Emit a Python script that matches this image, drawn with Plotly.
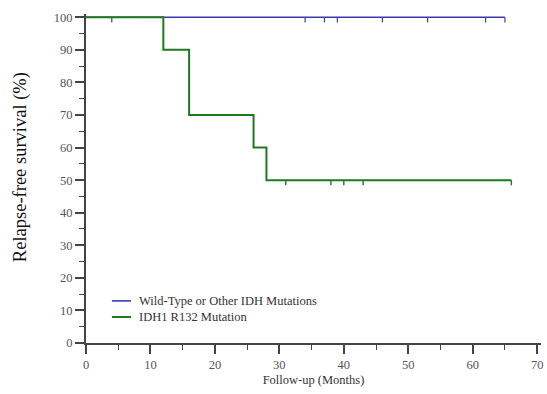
import plotly.graph_objects as go

# Kaplan-Meier step data (months, survival %)
wt_times = [0, 65]
wt_surv = [100, 100]
wt_censor_times = [4, 34, 37, 39, 46, 53, 62, 65]

idh_times = [0, 12, 16, 26, 28, 66]
idh_surv = [100, 90, 70, 60, 50, 50]
idh_censor_times = [31, 38, 40, 43, 66]

x_ticks = [0, 10, 20, 30, 40, 50, 60, 70]
y_ticks = [0, 10, 20, 30, 40, 50, 60, 70, 80, 90, 100]

series_names = ["Wild-Type or Other IDH Mutations", "IDH1 R132 Mutation"]
BLUE = "#3a3ab4"
GREEN = "#1f7a1f"
FONT = "Liberation Serif"
CENSOR_LEN = 1.6  # length of the censor tick, in survival-% units


def surv_at(times, surv, t):
    v = surv[0]
    for ti, si in zip(times, surv):
        if ti <= t:
            v = si
    return v


def censor_segments(times, surv, ctimes):
    xs, ys = [], []
    for t in ctimes:
        v = surv_at(times, surv, t)
        xs += [t, t, None]
        ys += [v, v - CENSOR_LEN, None]
    return xs, ys


fig = go.Figure()

# Wild-type curve
fig.add_trace(go.Scatter(x=wt_times, y=wt_surv, mode="lines", line_shape="hv",
                         line=dict(color=BLUE, width=1.6), name=series_names[0]))
cx, cy = censor_segments(wt_times, wt_surv, wt_censor_times)
fig.add_trace(go.Scatter(x=cx, y=cy, mode="lines", line=dict(color=BLUE, width=1.2),
                         hoverinfo="skip"))

# IDH1 R132 curve
fig.add_trace(go.Scatter(x=idh_times, y=idh_surv, mode="lines", line_shape="hv",
                         line=dict(color=GREEN, width=2), name=series_names[1]))
cx, cy = censor_segments(idh_times, idh_surv, idh_censor_times)
fig.add_trace(go.Scatter(x=cx, y=cy, mode="lines", line=dict(color=GREEN, width=1.4),
                         hoverinfo="skip"))

# Compact legend box in the lower-left corner of the plot
legend_rows_y = [0.128, 0.079]
for name, color, width, yy in zip(series_names, [BLUE, GREEN], [1.6, 2], legend_rows_y):
    fig.add_shape(type="line", xref="paper", yref="paper", x0=0.057, x1=0.099, y0=yy, y1=yy,
                  line=dict(color=color, width=width))
    fig.add_annotation(xref="paper", yref="paper", x=0.113, y=yy, text=name, showarrow=False,
                       xanchor="left", yanchor="middle",
                       font=dict(family=FONT, size=12.5, color="#333333"))

# Y-axis title, placed as a rotated annotation
fig.add_annotation(xref="paper", yref="paper", x=-0.144, y=0.536, text="Relapse-free survival (%)",
                   textangle=-90, showarrow=False, xanchor="center", yanchor="middle",
                   font=dict(family=FONT, size=18.5, color="#111111"))

axis_common = dict(
    showgrid=False, zeroline=False, showline=True, linecolor="#444444", linewidth=2,
    ticks="outside", tickcolor="#444444", tickwidth=1.5, ticklen=9,
    tickfont=dict(family=FONT, size=12.5, color="#555555"),
)
minor_ticks = dict(ticks="outside", dtick=5, tick0=0, ticklen=5, tickcolor="#444444", tickwidth=1)

fig.update_layout(
    width=547, height=394,
    margin=dict(l=86, r=4, t=14, b=51),
    paper_bgcolor="white", plot_bgcolor="white",
    font=dict(family=FONT, color="#222222"),
    xaxis=dict(range=[0, 70.6], tickvals=x_ticks, **axis_common, minor=minor_ticks,
               title=dict(text="Follow-up (Months)", font=dict(family=FONT, size=12.5, color="#333333"), standoff=4)),
    yaxis=dict(range=[0, 101], tickvals=y_ticks, **axis_common, minor=minor_ticks),
    showlegend=False,
)

fig.write_html("out.html")
